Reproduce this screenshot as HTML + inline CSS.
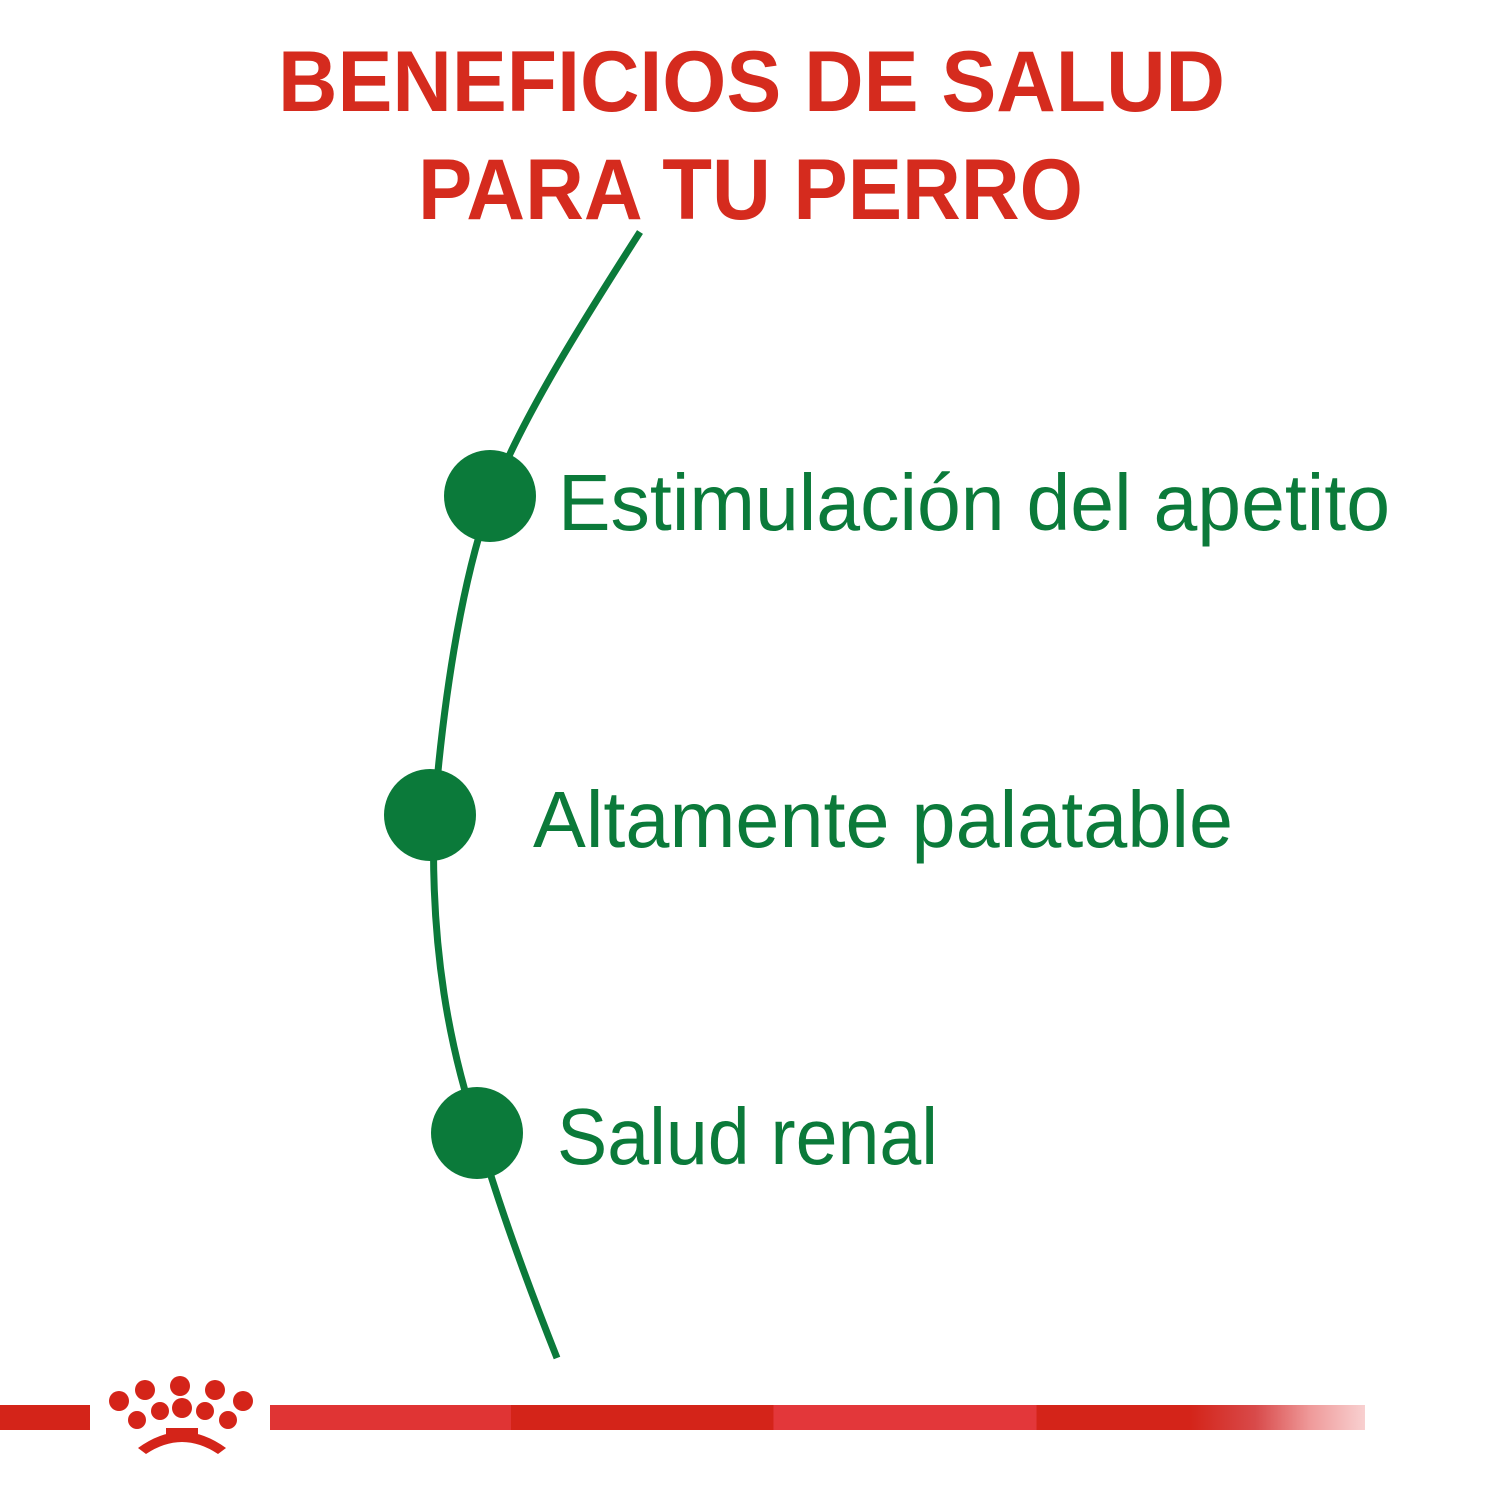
<!DOCTYPE html>
<html><head><meta charset="utf-8">
<style>html,body{margin:0;padding:0;background:#fff;}svg{display:block}</style>
</head><body>
<svg width="1500" height="1500" viewBox="0 0 1500 1500" xmlns="http://www.w3.org/2000/svg">
<defs>
<linearGradient id="bar" x1="270" x2="1365" y1="0" y2="0" gradientUnits="userSpaceOnUse">
<stop offset="0" stop-color="#e03434"/>
<stop offset="0.22" stop-color="#e03434"/>
<stop offset="0.22" stop-color="#d42419"/>
<stop offset="0.46" stop-color="#d42419"/>
<stop offset="0.46" stop-color="#e3373a"/>
<stop offset="0.7" stop-color="#e3373a"/>
<stop offset="0.7" stop-color="#d42419"/>
<stop offset="0.84" stop-color="#d42419"/>
<stop offset="0.9" stop-color="#d84a4a"/>
<stop offset="0.95" stop-color="#ef9a9a"/>
<stop offset="1" stop-color="#f8d0d0"/>
</linearGradient>
</defs>
<g font-family="Liberation Sans, sans-serif" font-weight="bold" fill="#d52b1e" font-size="86">
<text x="278" y="111" textLength="947" lengthAdjust="spacingAndGlyphs">BENEFICIOS DE SALUD</text>
<text x="418" y="219" textLength="665" lengthAdjust="spacingAndGlyphs">PARA TU PERRO</text>
</g>
<path d="M640,232 C590,310 520,420 492,496 C465,570 445,680 434,815 C430,950 450,1050 478,1133 C500,1210 530,1290 557,1358" fill="none" stroke="#0b7a3a" stroke-width="7"/>
<circle cx="490" cy="496" r="46" fill="#0b7a3a"/>
<circle cx="430" cy="815" r="46" fill="#0b7a3a"/>
<circle cx="477" cy="1133" r="46" fill="#0b7a3a"/>
<g font-family="Liberation Sans, sans-serif" fill="#0b7a3a" font-size="80">
<text x="558" y="530" textLength="832" lengthAdjust="spacingAndGlyphs">Estimulación del apetito</text>
<text x="533" y="847" textLength="700" lengthAdjust="spacingAndGlyphs">Altamente palatable</text>
<text x="557" y="1164" textLength="381" lengthAdjust="spacingAndGlyphs">Salud renal</text>
</g>
<rect x="0" y="1405" width="90" height="25" fill="#d42419"/>
<rect x="270" y="1405" width="1095" height="25" fill="url(#bar)"/>
<g fill="#d42419">
<circle cx="145" cy="1390" r="10"/><circle cx="180" cy="1386" r="10"/><circle cx="215" cy="1390" r="10"/>
<circle cx="119" cy="1401" r="10"/><circle cx="243" cy="1401" r="10"/>
<circle cx="137" cy="1420" r="9"/><circle cx="160" cy="1411" r="9"/><circle cx="182" cy="1408" r="10"/><circle cx="205" cy="1411" r="9"/><circle cx="228" cy="1420" r="9"/>
<path d="M138,1448 Q182,1416 226,1448 L218,1454 Q182,1430 146,1454 Z"/>
<rect x="166" y="1428" width="32" height="12"/>
</g>
</svg>
</body></html>
